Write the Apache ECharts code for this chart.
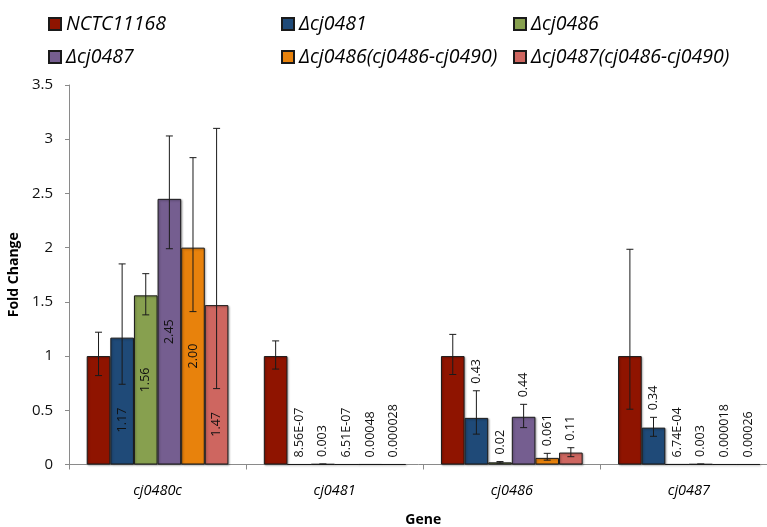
<!DOCTYPE html>
<html><head><meta charset="utf-8">
<script src="https://cdn.jsdelivr.net/npm/echarts@6/dist/echarts.min.js"></script>
<style>html,body{margin:0;padding:0;background:#fff}#c{width:767px;height:527px}</style>
</head><body><div id="c"></div>
<script>
// ---- data ----
const categories = ['cj0480c', 'cj0481', 'cj0486', 'cj0487'];
const seriesNames = ['NCTC11168', 'Δcj0481', 'Δcj0486', 'Δcj0487', 'Δcj0486(cj0486-cj0490)', 'Δcj0487(cj0486-cj0490)'];

const valNCTC  = [1, 1, 1, 1];
const val0481  = [1.17, 8.56e-7, 0.43, 0.34];
const val0486  = [1.56, 0.003, 0.02, 6.74e-4];
const val0487  = [2.45, 6.51e-7, 0.44, 0.003];
const val0486c = [2.00, 0.00048, 0.061, 0.000018];
const val0487c = [1.47, 0.000028, 0.11, 0.00026];

// error bar bounds (lower / upper)
const lowNCTC  = [0.82, 0.88, 0.83, 0.51];
const highNCTC = [1.22, 1.14, 1.20, 1.985];
const low0481  = [0.74, null, 0.28, 0.26];
const high0481 = [1.85, null, 0.68, 0.435];
const low0486  = [1.38, 0.001, 0.013, null];
const high0486 = [1.76, 0.005, 0.027, null];
const low0487  = [1.99, null, 0.34, 0.001];
const high0487 = [3.03, null, 0.555, 0.005];
const low0486c = [1.41, null, 0.04, null];
const high0486c= [2.83, null, 0.103, null];
const low0487c = [0.70, null, 0.072, null];
const high0487c= [3.10, null, 0.155, null];

// data label texts
const lblNCTC  = [null, null, null, null];
const lbl0481  = ['1.17', '8.56E-07', '0.43', '0.34'];
const lbl0486  = ['1.56', '0.003', '0.02', '6.74E-04'];
const lbl0487  = ['2.45', '6.51E-07', '0.44', '0.003'];
const lbl0486c = ['2.00', '0.00048', '0.061', '0.000018'];
const lbl0487c = ['1.47', '0.000028', '0.11', '0.00026'];

const yMin = 0, yMax = 3.5, yStep = 0.5;

// ---- build ----
const values = [valNCTC, val0481, val0486, val0487, val0486c, val0487c];
const lows = [lowNCTC, low0481, low0486, low0487, low0486c, low0487c];
const highs = [highNCTC, high0481, high0486, high0487, high0486c, high0487c];
const labels = [lblNCTC, lbl0481, lbl0486, lbl0487, lbl0486c, lbl0487c];
const colors = ['#8F1400', '#1F4A78', '#87A04F', '#755E90', '#E8820C', '#CE6660'];
const FONT = '"Open Sans", "Liberation Sans", sans-serif';
const nS = seriesNames.length;
const catGap = 0.2;

const items = [];
for (let s = 0; s < nS; s++) {
  for (let c = 0; c < categories.length; c++) {
    items.push({ c, s, v: values[s][c], lo: lows[s][c], hi: highs[s][c], label: labels[s][c] });
  }
}

const barSeries = seriesNames.map((n, i) => ({
  name: n, type: 'bar', data: values[i],
  barGap: '0%', barCategoryGap: (catGap * 100) + '%',
  itemStyle: { color: colors[i], borderColor: '#1a1a1a', borderWidth: 1,
    shadowColor: 'rgba(0,0,0,0.3)', shadowBlur: 2, shadowOffsetX: 1, shadowOffsetY: 1 },
  emphasis: { disabled: true },
  z: 2
}));

const errSeries = {
  type: 'custom', coordinateSystem: 'cartesian2d', z: 5, clip: false,
  silent: true,
  data: items.map(it => [it.c, it.v]),
  encode: { x: 0, y: 1 },
  renderItem: function (params, api) {
    const it = items[params.dataIndex];
    const base = api.coord([it.c, 0]);
    const band = api.size([1, 0])[0];
    const barW = band * (1 - catGap) / nS;
    const cx = base[0] - band * (1 - catGap) / 2 + barW * (it.s + 0.5);
    const children = [];
    let topY = api.coord([it.c, it.v])[1];
    if (it.lo != null && it.hi != null) {
      const yLo = api.coord([it.c, it.lo])[1];
      const yHi = api.coord([it.c, it.hi])[1];
      topY = Math.min(topY, yHi);
      const st = { stroke: '#1a1a1a', lineWidth: 1 };
      children.push({ type: 'line', shape: { x1: cx, y1: yLo, x2: cx, y2: yHi }, style: st });
      children.push({ type: 'line', shape: { x1: cx - 3.5, y1: yLo, x2: cx + 3.5, y2: yLo }, style: st });
      children.push({ type: 'line', shape: { x1: cx - 3.5, y1: yHi, x2: cx + 3.5, y2: yHi }, style: st });
    }
    if (it.label) {
      if (it.c === 0) {
        // inside the bar, kept below the lower end of the error bar
        let mid = it.v / 2;
        if (it.lo != null) mid = Math.min(mid, it.lo - 0.33);
        const yMid = api.coord([it.c, mid])[1];
        children.push({ type: 'text', x: cx, y: yMid, rotation: Math.PI / 2,
          style: { text: it.label, font: '12.5px ' + FONT, fill: '#111', align: 'center', verticalAlign: 'middle' } });
      } else {
        children.push({ type: 'text', x: cx, y: topY - 7, rotation: Math.PI / 2,
          style: { text: it.label, font: '12.5px ' + FONT, fill: '#111', align: 'left', verticalAlign: 'middle' } });
      }
    }
    return { type: 'group', children };
  }
};

const legendPos = [[48, 13], [281, 13], [513, 13], [48, 46], [281, 46], [513, 46]];
const legends = seriesNames.map((n, i) => ({
  data: [n], left: legendPos[i][0], top: legendPos[i][1], padding: 0,
  itemWidth: 12, itemHeight: 12, icon: 'rect', selectedMode: false,
  textStyle: { fontFamily: FONT, fontStyle: 'italic', fontSize: 19.5, color: '#000', lineHeight: 22 }
}));

const chart = echarts.init(document.getElementById('c'), null, { renderer: 'canvas' });
chart.setOption({
  animation: false,
  backgroundColor: '#fff',
  legend: legends,
  grid: { left: 69, right: -10.5, top: 85, bottom: 62.5, containLabel: false, outerBoundsMode: 'none' },
  xAxis: {
    type: 'category', data: categories,
    name: 'Gene', nameLocation: 'middle', nameGap: 49,
    nameTextStyle: { fontFamily: FONT, fontWeight: 'bold', fontSize: 14, color: '#000' },
    axisLine: { lineStyle: { color: '#8a8a8a' } },
    axisTick: { show: true, length: 5, lineStyle: { color: '#8a8a8a' } },
    axisLabel: { margin: 19, fontFamily: FONT, fontStyle: 'italic', fontSize: 14.5, color: '#000' },
    splitLine: { show: false }
  },
  yAxis: {
    type: 'value', min: yMin, max: yMax, interval: yStep,
    name: 'Fold Change', nameLocation: 'middle', nameGap: 44,
    nameTextStyle: { fontFamily: FONT, fontWeight: 'bold', fontSize: 14, color: '#000' },
    axisLine: { show: true, lineStyle: { color: '#8a8a8a' } },
    axisTick: { show: true, length: 4, lineStyle: { color: '#8a8a8a' } },
    axisLabel: { margin: 16, fontFamily: FONT, fontSize: 15, color: '#111' },
    splitLine: { show: false }
  },
  series: barSeries.concat([errSeries])
});
</script>
</body></html>
